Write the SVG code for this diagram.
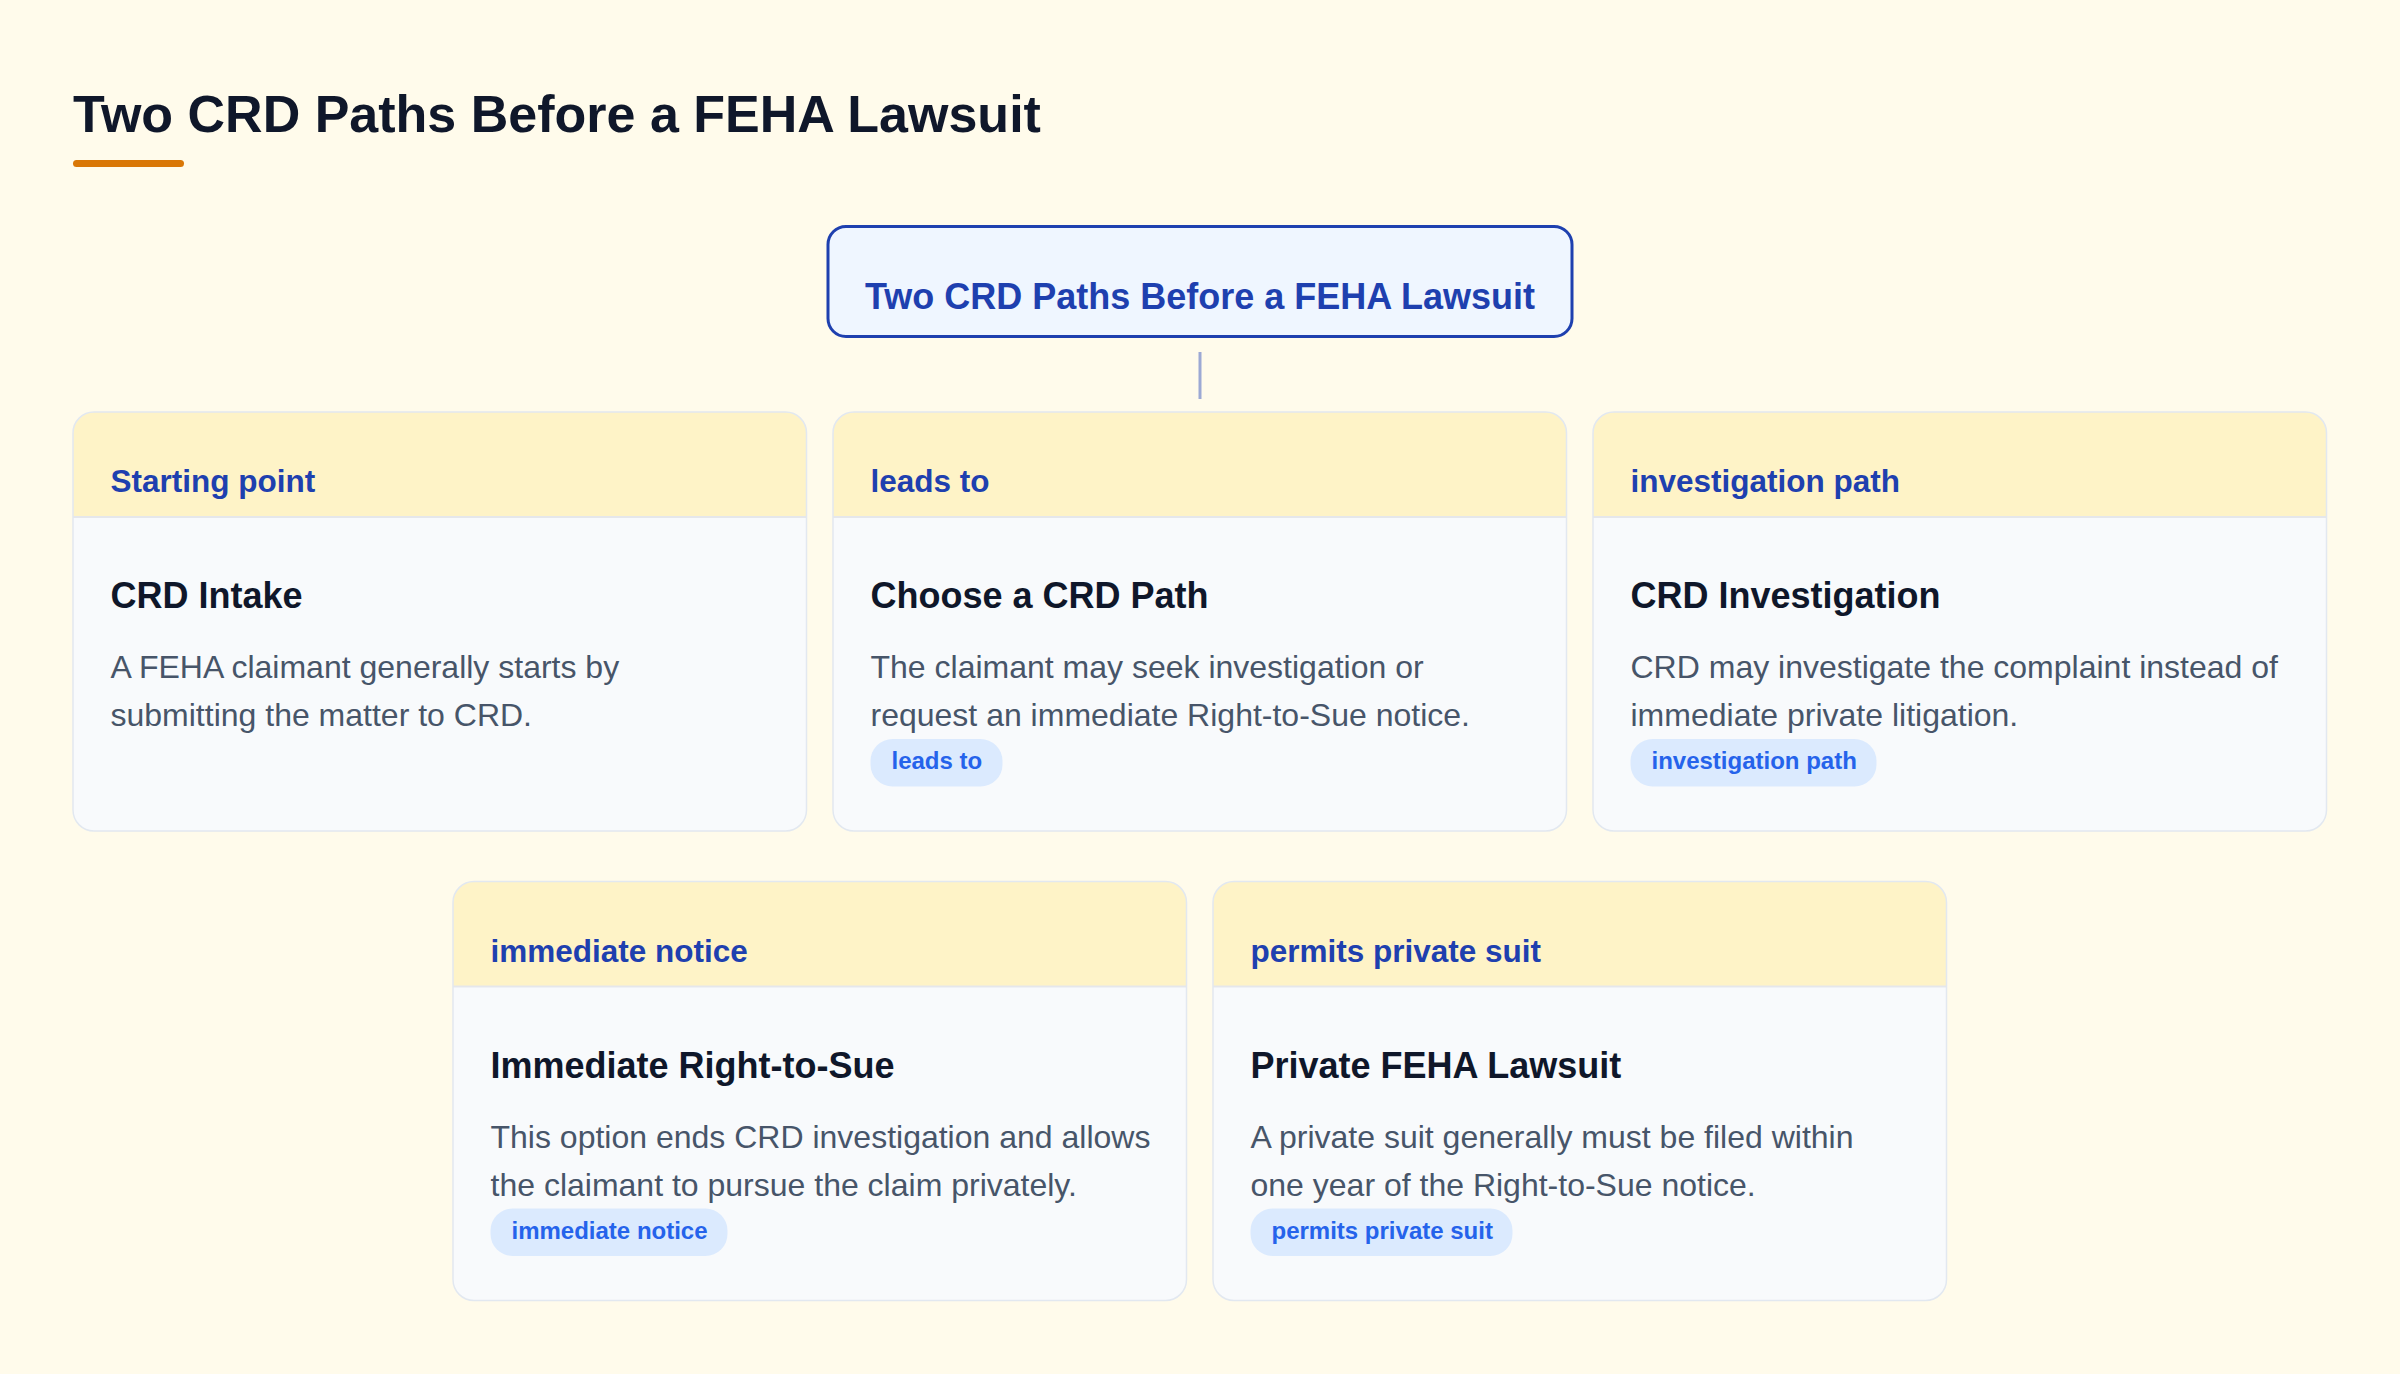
<svg xmlns="http://www.w3.org/2000/svg" width="2400" height="1374" viewBox="0 0 2400 1374">
<style>
text{font-family:"Liberation Sans",Arial,Helvetica,sans-serif}
.page-title{font-size:52px;font-weight:700;fill:#0f172a}
.root-text{font-size:36px;font-weight:700;fill:#1e40af}
.head-text{font-size:31.5px;font-weight:700;fill:#1e40af}
.card-title{font-size:36px;font-weight:700;fill:#0f172a}
.body-text{font-size:32px;fill:#475569}
.pill-text{font-size:24px;font-weight:700;fill:#2563eb}
.card-bg{fill:#f8fafc}
.card-head{fill:#fef3c7}
.card-border{fill:none;stroke:#e2e8f0;stroke-width:1.5}
.sep{stroke:#e5e7eb;stroke-width:2}
.pill{fill:#dbeafe}
.conn{stroke:#9ca9d4;stroke-width:3;fill:none}
</style>
<defs>
<rect id="cardBody" x="0" y="0" width="733.5" height="419" rx="21" ry="21"/>
<path id="cardHead" d="M0,105 V21 A21,21 0 0 1 21,0 H712.5 A21,21 0 0 1 733.5,21 V105 Z"/>
</defs>
<rect x="0" y="0" width="2400" height="1374" fill="#fffbeb"/>
<g id="title">
<text class="page-title" x="73" y="132">Two CRD Paths Before a FEHA Lawsuit</text>
<rect x="73" y="160" width="111" height="7" rx="3.5" fill="#d97706"/>
</g>
<g id="connectors">
<line class="conn" x1="1200" y1="352" x2="1200" y2="399"/>
</g>
<g id="root">
<rect x="828" y="226.5" width="744" height="110" rx="18" fill="#eff6ff" stroke="#1e40af" stroke-width="3"/>
<text class="root-text" x="1200" y="309" text-anchor="middle">Two CRD Paths Before a FEHA Lawsuit</text>
</g>
<g id="crd-intake" transform="translate(73,412)">
<use href="#cardBody" class="card-bg"/>
<use href="#cardHead" class="card-head"/>
<line class="sep" x1="0" y1="105" x2="733.5" y2="105"/>
<use href="#cardBody" class="card-border"/>
<text class="head-text" x="37.5" y="80">Starting point</text>
<text class="card-title" x="37.5" y="196">CRD Intake</text>
<text class="body-text" x="37.5" y="266">A FEHA claimant generally starts by</text>
<text class="body-text" x="37.5" y="314">submitting the matter to CRD.</text>
</g>
<g id="choose-path" transform="translate(833,412)">
<use href="#cardBody" class="card-bg"/>
<use href="#cardHead" class="card-head"/>
<line class="sep" x1="0" y1="105" x2="733.5" y2="105"/>
<use href="#cardBody" class="card-border"/>
<text class="head-text" x="37.5" y="80">leads to</text>
<text class="card-title" x="37.5" y="196">Choose a CRD Path</text>
<text class="body-text" x="37.5" y="266">The claimant may seek investigation or</text>
<text class="body-text" x="37.5" y="314">request an immediate Right-to-Sue notice.</text>
<rect class="pill" x="37.5" y="327" width="132" height="47.5" rx="22"/>
<text class="pill-text" x="58.5" y="357.3">leads to</text>
</g>
<g id="crd-investigation" transform="translate(1593,412)">
<use href="#cardBody" class="card-bg"/>
<use href="#cardHead" class="card-head"/>
<line class="sep" x1="0" y1="105" x2="733.5" y2="105"/>
<use href="#cardBody" class="card-border"/>
<text class="head-text" x="37.5" y="80">investigation path</text>
<text class="card-title" x="37.5" y="196">CRD Investigation</text>
<text class="body-text" x="37.5" y="266">CRD may investigate the complaint instead of</text>
<text class="body-text" x="37.5" y="314">immediate private litigation.</text>
<rect class="pill" x="37.5" y="327" width="246" height="47.5" rx="22"/>
<text class="pill-text" x="58.5" y="357.3">investigation path</text>
</g>
<g id="immediate-rts" transform="translate(453,881.5)">
<use href="#cardBody" class="card-bg"/>
<use href="#cardHead" class="card-head"/>
<line class="sep" x1="0" y1="105" x2="733.5" y2="105"/>
<use href="#cardBody" class="card-border"/>
<text class="head-text" x="37.5" y="80">immediate notice</text>
<text class="card-title" x="37.5" y="196">Immediate Right-to-Sue</text>
<text class="body-text" x="37.5" y="266">This option ends CRD investigation and allows</text>
<text class="body-text" x="37.5" y="314">the claimant to pursue the claim privately.</text>
<rect class="pill" x="37.5" y="327" width="237" height="47.5" rx="22"/>
<text class="pill-text" x="58.5" y="357.3">immediate notice</text>
</g>
<g id="private-lawsuit" transform="translate(1213,881.5)">
<use href="#cardBody" class="card-bg"/>
<use href="#cardHead" class="card-head"/>
<line class="sep" x1="0" y1="105" x2="733.5" y2="105"/>
<use href="#cardBody" class="card-border"/>
<text class="head-text" x="37.5" y="80">permits private suit</text>
<text class="card-title" x="37.5" y="196">Private FEHA Lawsuit</text>
<text class="body-text" x="37.5" y="266">A private suit generally must be filed within</text>
<text class="body-text" x="37.5" y="314">one year of the Right-to-Sue notice.</text>
<rect class="pill" x="37.5" y="327" width="262" height="47.5" rx="22"/>
<text class="pill-text" x="58.5" y="357.3">permits private suit</text>
</g>
</svg>
